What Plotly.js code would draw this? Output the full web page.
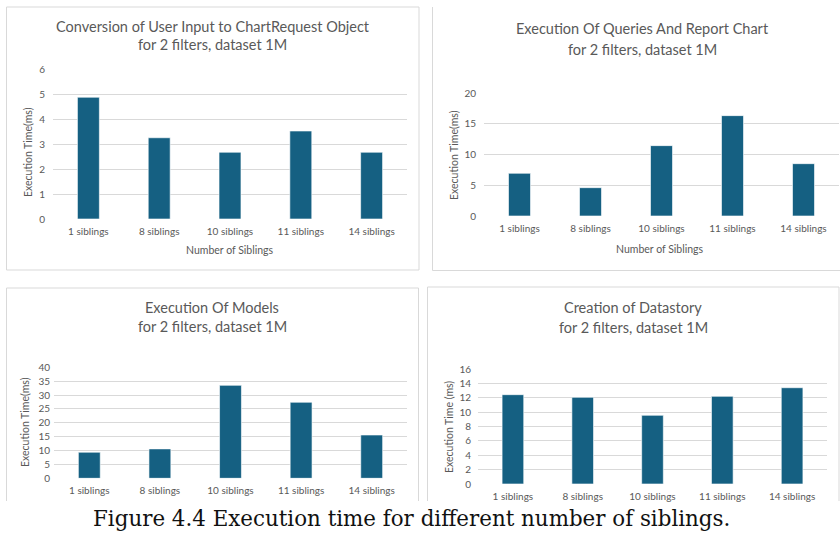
<!DOCTYPE html>
<html>
<head>
<meta charset="utf-8">
<script src="https://cdn.plot.ly/plotly-3.0.1.min.js"></script>
<style>
html,body{margin:0;padding:0;background:#fff;}
#chart{width:840px;height:533px;}
</style>
</head>
<body>
<div id="chart"></div>
<script>
// ---- data ----
var categories = ['1 siblings', '8 siblings', '10 siblings', '11 siblings', '14 siblings'];
var conversionMs = [4.87, 3.25, 2.67, 3.52, 2.67];
var queriesMs = [6.96, 4.62, 11.47, 16.36, 8.53];
var modelsMs = [9.4, 10.6, 33.5, 27.4, 15.6];
var datastoryMs = [12.46, 12.09, 9.58, 12.23, 13.43];

var chartTitles = [
  ['Conversion of User Input to ChartRequest Object', 'for 2 filters, dataset 1M'],
  ['Execution Of Queries And Report Chart', 'for 2 filters, dataset 1M'],
  ['Execution Of Models', 'for 2 filters, dataset 1M'],
  ['Creation of Datastory', 'for 2 filters, dataset 1M']
];
var yTitles = ['Execution Time(ms)', 'Execution Time(ms)', 'Execution Time(ms)', 'Execution Time (ms)'];
var xTitle = 'Number of Siblings';
var caption = 'Figure 4.4 Execution time for different number of siblings.';

// ---- helpers ----
var W = 840, H = 533;
function px(x) { return x / W; }
function py(y) { return 1 - y / H; }

var BAR = '#156082';
var GRID = '#d9d9d9';
var TXT = '#595959';
var FONT = 'Lato, "Open Sans", sans-serif';

function barTrace(vals, xa, ya) {
  return {
    type: 'bar', x: categories, y: vals, xaxis: xa, yaxis: ya,
    width: 0.31,
    marker: {color: BAR, line: {color: '#ffffff', width: 0.6}},
    hoverinfo: 'x+y', showlegend: false
  };
}

var data = [
  barTrace(conversionMs, 'x', 'y'),
  barTrace(queriesMs, 'x2', 'y2'),
  barTrace(modelsMs, 'x3', 'y3'),
  barTrace(datastoryMs, 'x4', 'y4')
];

function xAxis(x0, x1, anchor, standoff) {
  return {
    domain: [px(x0), px(x1)], anchor: anchor,
    showgrid: false, zeroline: false, showline: false, ticks: '',
    tickfont: {family: FONT, size: 10, color: TXT},
    ticklabelstandoff: standoff, fixedrange: true
  };
}
function yAxis(yb, yt, anchor, maxV, dt, standoff) {
  return {
    domain: [py(yb), py(yt)], anchor: anchor,
    range: [0, maxV], tick0: 0, dtick: dt,
    showgrid: true, gridcolor: GRID, gridwidth: 1,
    zeroline: false, showline: false, ticks: '',
    tickfont: {family: FONT, size: 10, color: TXT},
    ticklabelstandoff: standoff, fixedrange: true
  };
}

var layout = {
  width: W, height: H,
  margin: {l: 0, r: 0, t: 0, b: 0},
  paper_bgcolor: '#ffffff', plot_bgcolor: 'rgba(0,0,0,0)',
  showlegend: false,
  xaxis: xAxis(53, 407, 'y', 5),
  yaxis: yAxis(219, 69, 'x', 6, 1, 7),
  xaxis2: xAxis(484, 839, 'y2', 5),
  yaxis2: yAxis(216, 93.3, 'x2', 20, 5, 7),
  xaxis3: xAxis(54, 407, 'y3', 5),
  yaxis3: yAxis(478.3, 367.3, 'x3', 40, 5, 3),
  xaxis4: xAxis(478, 827, 'y4', 5),
  yaxis4: yAxis(484, 369.3, 'x4', 16, 2, 6),
  shapes: [],
  annotations: []
};

// panel borders
function line(x0, y0, x1, y1) {
  layout.shapes.push({type: 'line', xref: 'paper', yref: 'paper',
    x0: px(x0), y0: py(y0), x1: px(x1), y1: py(y1),
    line: {color: GRID, width: 1}});
}
// panel 1
line(6.5, 7, 419, 7); line(6.5, 7, 6.5, 270); line(419, 7, 419, 270); line(6.5, 270, 419, 270);
// panel 2
line(432.5, 7, 432.5, 270.5); line(432.5, 270.5, 840, 270.5);
// panel 3
line(6.5, 288, 418.5, 288); line(6.5, 288, 6.5, 501); line(418.5, 288, 418.5, 501);
// panel 4
line(427.5, 287, 839, 287); line(427.5, 287, 427.5, 501); line(839, 287, 839, 501);

function ann(text, x, y, size, opts) {
  var a = {text: text, xref: 'paper', yref: 'paper', x: px(x), y: py(y),
    xanchor: 'center', yanchor: 'middle', showarrow: false,
    font: {family: FONT, size: size, color: TXT}};
  if (opts) for (var k in opts) a[k] = opts[k];
  layout.annotations.push(a);
}
var TS = 14.5;
// titles
ann(chartTitles[0][0], 212.5, 26, TS); ann(chartTitles[0][1], 212.5, 45, TS);
ann(chartTitles[1][0], 642, 28, TS); ann(chartTitles[1][1], 642, 49, TS);
ann(chartTitles[2][0], 212, 307, TS); ann(chartTitles[2][1], 212, 326, TS);
ann(chartTitles[3][0], 633, 307, TS); ann(chartTitles[3][1], 633, 327, TS);
// x titles
ann(xTitle, 230, 250, 10.5);
ann(xTitle, 660, 249, 10.5);
// y titles
ann(yTitles[0], 28, 152, 10.5, {textangle: -90});
ann(yTitles[1], 454, 155, 10.5, {textangle: -90});
ann(yTitles[2], 25, 422, 10.5, {textangle: -90});
ann(yTitles[3], 449, 427, 10.5, {textangle: -90});
// caption
ann(caption, 91, 518, 21.4, {xanchor: 'left',
  font: {family: '"DejaVu Serif", serif', size: 21.4, color: '#111111'}});

Plotly.newPlot('chart', data, layout, {displayModeBar: false, staticPlot: true});
</script>
</body>
</html>
